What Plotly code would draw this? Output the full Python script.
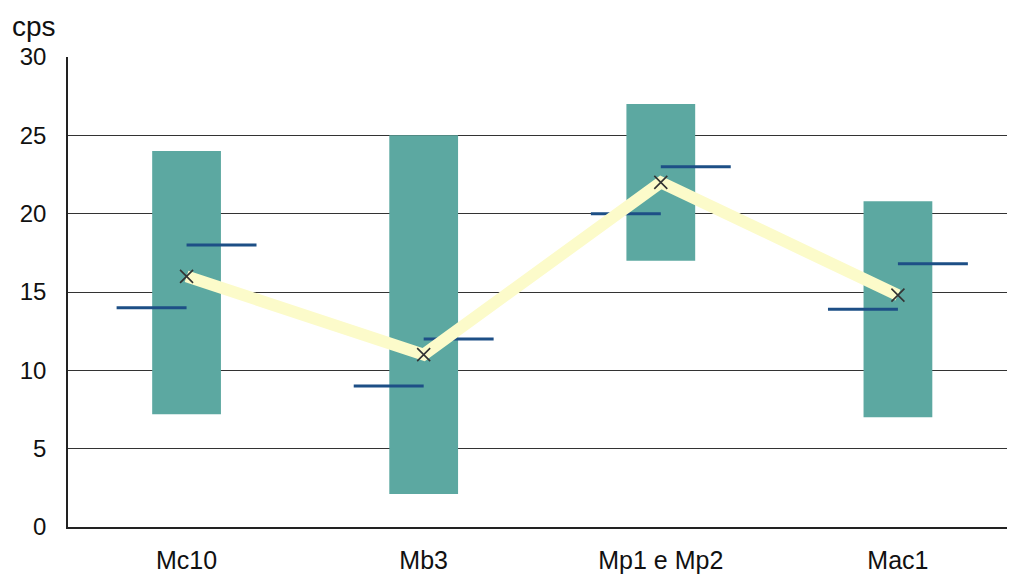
import plotly.graph_objects as go

# Sample groups and their measured ranges (cps)
categories = ["Mc10", "Mb3", "Mp1 e Mp2", "Mac1"]
range_low = [7.2, 2.1, 17.0, 7.0]
range_high = [24.0, 25.0, 27.0, 20.8]
left_marks = [14.0, 9.0, 20.0, 13.9]
right_marks = [18.0, 12.0, 23.0, 16.8]
mean_values = [16.0, 11.0, 22.0, 14.8]
y_ticks = [0, 5, 10, 15, 20, 25, 30]

idx = list(range(len(categories)))
BAR_W = 0.29
DASH_W = 0.295

fig = go.Figure()

# Floating range bars
fig.add_trace(go.Bar(
    x=idx,
    base=range_low,
    y=[h - l for h, l in zip(range_high, range_low)],
    width=BAR_W,
    marker=dict(color="#5ca8a1", line=dict(width=0)),
    hoverinfo="skip",
))

# Short horizontal ticks on either side of each bar centre
dx, dy = [], []
for i, lv, rv in zip(idx, left_marks, right_marks):
    dx += [i - DASH_W, i, None, i, i + DASH_W, None]
    dy += [lv, lv, None, rv, rv, None]
fig.add_trace(go.Scatter(
    x=dx, y=dy, mode="lines",
    line=dict(color="#1d4f86", width=3),
    hoverinfo="skip",
))

# Pale connecting line through the means
fig.add_trace(go.Scatter(
    x=idx, y=mean_values, mode="lines",
    line=dict(color="#fcfbca", width=12),
    hoverinfo="skip",
))
fig.add_trace(go.Scatter(
    x=idx, y=mean_values, mode="markers",
    marker=dict(symbol="x-thin", size=13, line=dict(color="#333333", width=1.6)),
    hoverinfo="skip",
))

fig.update_layout(
    width=1009, height=576,
    margin=dict(l=68, r=2, t=57, b=47),
    paper_bgcolor="white", plot_bgcolor="white",
    showlegend=False,
    font=dict(family="Liberation Sans, Arial, sans-serif", color="#111111"),
    xaxis=dict(
        range=[-0.5, 3.46],
        tickmode="array", tickvals=idx, ticktext=categories,
        tickfont=dict(size=25), ticks="", showgrid=False,
        ticklabelstandoff=10,
        showline=True, linecolor="#222222", linewidth=1.5,
        zeroline=False, fixedrange=True,
    ),
    yaxis=dict(
        range=[0, 30],
        tickmode="array", tickvals=y_ticks,
        tickfont=dict(size=24), ticks="", ticklabelstandoff=15,
        showgrid=True, gridcolor="#333333", gridwidth=1,
        showline=True, linecolor="#222222", linewidth=1.5,
        zeroline=False, fixedrange=True,
    ),
    annotations=[dict(
        text="cps", xref="paper", yref="paper",
        x=-0.062, y=1.0, xanchor="left", yanchor="bottom", yshift=13,
        showarrow=False, font=dict(size=28, color="#111111"),
    )],
)

fig.write_html("out.html")
